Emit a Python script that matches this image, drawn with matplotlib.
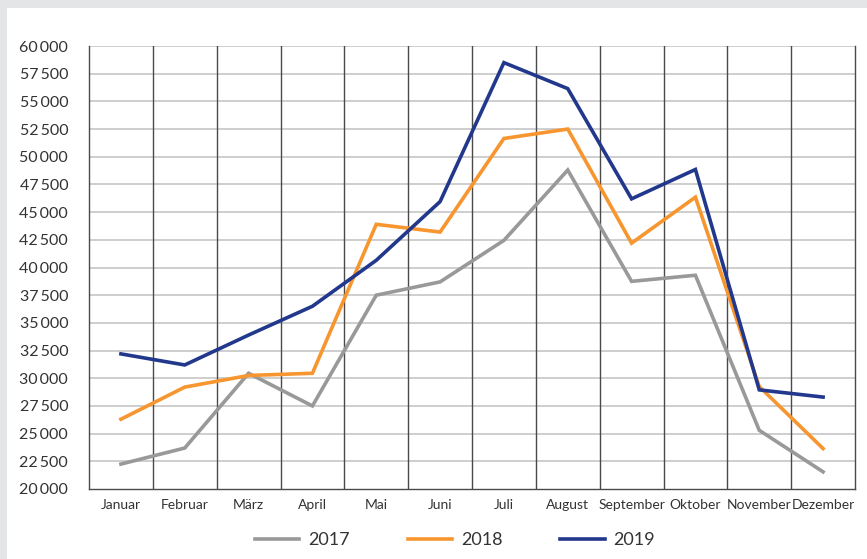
import matplotlib.pyplot as plt
from matplotlib.patches import Rectangle
from matplotlib.ticker import FuncFormatter

months = ["Januar", "Februar", "März", "April", "Mai", "Juni", "Juli",
          "August", "September", "Oktober", "November", "Dezember"]

values_2017 = [22250, 23700, 30450, 27500, 37500, 38700, 42450, 48800,
               38750, 39300, 25300, 21550]
values_2018 = [26300, 29200, 30250, 30450, 43900, 43200, 51650, 52500,
               42200, 46350, 29250, 23650]
values_2019 = [32200, 31200, 33900, 36500, 40650, 45950, 58500, 56150,
               46200, 48850, 28950, 28300]

years = ["2017", "2018", "2019"]
colors = ["#999999", "#f7962f", "#21388c"]

plt.rcParams["font.family"] = ["Lato", "DejaVu Sans"]

fig = plt.figure(figsize=(8.67, 5.59), dpi=100)
fig.patch.set_facecolor("#e4e5e7")
fig.patches.append(Rectangle((7 / 867, 0), 1, (559 - 8) / 559,
                             transform=fig.transFigure, facecolor="white",
                             edgecolor="none", zorder=-10))

ax = fig.add_axes([89 / 867, 70 / 559, 766 / 867, 443 / 559])
ax.set_zorder(5)
ax.set_facecolor("white")

x = [i + 0.5 for i in range(len(months))]
for vals, label, c in zip([values_2017, values_2018, values_2019], years, colors):
    ax.plot(x, vals, color=c, lw=2.6, label=label, solid_joinstyle="miter", zorder=3)

ax.set_xlim(0, 12)
ax.set_ylim(20000, 60000)
ax.set_yticks(range(20000, 60001, 2500))
ax.yaxis.set_major_formatter(
    FuncFormatter(lambda v, p: f"{int(v):,}".replace(",", "\u2009")))
ax.set_xticks(x)
ax.set_xticklabels(months, fontsize=10, color="#333333")
ax.tick_params(axis="y", length=0, pad=15, labelsize=11.5, labelcolor="#333333")
ax.tick_params(axis="x", length=0, pad=7)

for yv in range(22500, 60001, 2500):
    ax.axhline(yv, color="#c6c6c6", lw=1.2, zorder=1)
for xv in range(1, 12):
    ax.axvline(xv, color="#4a4a4a", lw=1, zorder=2)

for side in ["left", "bottom", "right"]:
    ax.spines[side].set_color("#4a4a4a")
    ax.spines[side].set_linewidth(1)
ax.spines["top"].set_visible(False)

leg = fig.legend(loc="center", bbox_to_anchor=(0.525, 19 / 559), ncol=3,
                 frameon=False, fontsize=13, handlelength=2.45,
                 columnspacing=3.2, handletextpad=0.5)
for t in leg.get_texts():
    t.set_color("#333333")

fig.savefig("out.png", dpi=100, facecolor=fig.get_facecolor())
